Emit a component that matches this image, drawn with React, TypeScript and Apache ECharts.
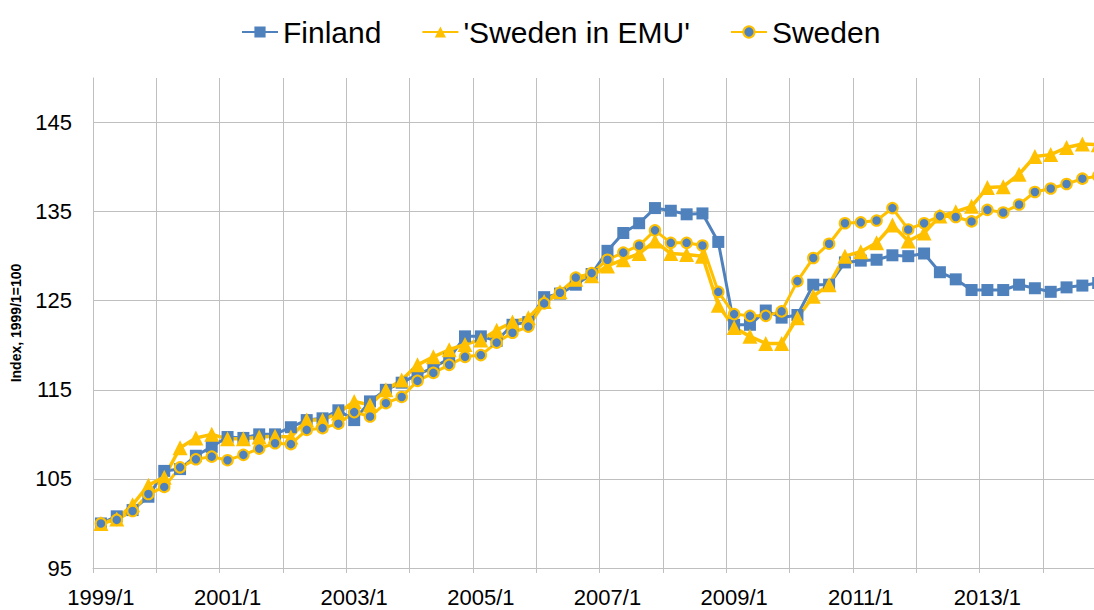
import React, { useEffect, useRef } from "react";
import * as echarts from "echarts";

const years = [1999, 2000, 2001, 2002, 2003, 2004, 2005, 2006, 2007, 2008, 2009, 2010, 2011, 2012, 2013, 2014];
const quarters = [1, 2, 3, 4];
const categories: string[] = [];
years.forEach((y) => quarters.forEach((q) => categories.push(`${y}/${q}`)));

const finland = [
  100.0, 100.8, 101.5, 103.0, 105.9, 106.1, 107.6, 108.6, 109.7, 109.6, 110.0, 110.0, 110.8, 111.6, 111.8, 112.7,
  111.6, 113.7, 115.0, 115.8, 116.7, 117.5, 118.5, 121.0, 121.0, 120.5, 122.3, 122.6, 125.4, 125.8, 126.8, 128.0,
  130.6, 132.6, 133.7, 135.4, 135.1, 134.7, 134.8, 131.6, 122.3, 122.3, 123.9, 123.1, 123.4, 126.8, 126.8, 129.3,
  129.5, 129.6, 130.1, 130.0, 130.3, 128.2, 127.4, 126.2, 126.2, 126.2, 126.8, 126.4, 126.0, 126.5, 126.7, 127.0,
];

const swedenEmu = [
  100.0, 100.5, 102.1, 104.3, 105.2, 108.5, 109.6, 110.0, 109.5, 109.5, 109.7, 109.8, 109.7, 111.6, 111.6, 112.4,
  113.7, 113.3, 115.0, 116.1, 117.8, 118.7, 119.5, 120.1, 120.6, 121.7, 122.6, 123.1, 124.9, 126.0, 127.4, 127.8,
  128.9, 129.6, 130.3, 131.7, 130.3, 130.2, 130.0, 124.5, 122.0, 121.0, 120.2, 120.2, 123.1, 125.5, 126.8, 130.0,
  130.5, 131.5, 133.5, 131.7, 132.6, 134.5, 135.0, 135.6, 137.7, 137.8, 139.2, 141.2, 141.4, 142.2, 142.6, 142.5,
];

const sweden = [
  100.0, 100.4, 101.4, 103.3, 104.1, 106.3, 107.2, 107.5, 107.1, 107.7, 108.4, 109.0, 108.9, 110.5, 110.7, 111.2,
  112.5, 112.0, 113.5, 114.2, 116.0, 116.9, 117.8, 118.7, 118.9, 120.3, 121.4, 122.1, 124.7, 125.9, 127.6, 128.1,
  129.6, 130.4, 131.2, 132.9, 131.5, 131.5, 131.2, 126.0, 123.5, 123.3, 123.3, 123.8, 127.2, 129.8, 131.4, 133.7,
  133.8, 134.0, 135.4, 133.0, 133.7, 134.5, 134.4, 133.9, 135.2, 134.9, 135.8, 137.2, 137.6, 138.1, 138.7, 139.0,
];

const seriesNames = ["Finland", "'Sweden in EMU'", "Sweden"];
const yTicks = { min: 95, max: 150, interval: 10 };

const BLUE = "#4F81BD";
const YELLOW = "#FFC000";
const GRID = "#BFBFBF";
const FONT = "Liberation Sans, Arial, sans-serif";

export default function App() {
  const ref = useRef<HTMLDivElement>(null);
  useEffect(() => {
    if (!ref.current) return;
    const chart = echarts.init(ref.current, undefined, { renderer: "svg" });
    chart.setOption({
      animation: false,
      backgroundColor: "#fff",
      legend: {
        top: 12,
        left: 236,
        itemWidth: 36,
        itemHeight: 14,
        itemGap: 40,
        textStyle: { fontSize: 30, color: "#000", fontFamily: FONT },
        data: seriesNames,
      },
      grid: { left: 93, top: 78, width: 64 * 15.83, height: 490, containLabel: false },
      xAxis: {
        type: "category",
        data: categories,
        boundaryGap: true,
        axisLine: { show: true, lineStyle: { color: GRID, width: 1 } },
        axisTick: { show: true, interval: 3, length: 5, lineStyle: { color: GRID } },
        splitLine: { show: true, interval: 3, lineStyle: { color: GRID, width: 1 } },
        axisLabel: { interval: 7, margin: 18, fontSize: 22, color: "#000", fontFamily: FONT },
      },
      yAxis: {
        type: "value",
        min: yTicks.min,
        max: yTicks.max,
        interval: yTicks.interval,
        name: "Index, 1999/1=100",
        nameLocation: "middle",
        nameGap: 70,
        nameRotate: 90,
        nameTextStyle: { fontSize: 14, fontWeight: "bold", color: "#000", fontFamily: FONT },
        axisLine: { show: true, lineStyle: { color: GRID, width: 1 } },
        axisTick: { show: false },
        splitLine: { show: true, showMaxLine: false, lineStyle: { color: GRID, width: 1 } },
        axisLabel: { showMaxLabel: false, margin: 21, fontSize: 22, color: "#000", fontFamily: FONT },
      },
      series: [
        {
          name: seriesNames[0],
          type: "line",
          data: finland,
          symbol: "rect",
          symbolSize: 12,
          showAllSymbol: true,
          lineStyle: { color: BLUE, width: 3 },
          itemStyle: { color: BLUE },
        },
        {
          name: seriesNames[1],
          type: "line",
          data: swedenEmu,
          symbol: "triangle",
          symbolSize: 15,
          showAllSymbol: true,
          lineStyle: { color: YELLOW, width: 3.5 },
          itemStyle: { color: YELLOW },
        },
        {
          name: seriesNames[2],
          type: "line",
          data: sweden,
          symbol: "circle",
          symbolSize: 10.5,
          showAllSymbol: true,
          lineStyle: { color: YELLOW, width: 3 },
          itemStyle: { color: BLUE, borderColor: YELLOW, borderWidth: 2 },
        },
      ],
    });
    return () => chart.dispose();
  }, []);
  return (
    <div style={{ position: "fixed", left: 0, top: 0, width: 1094, height: 610, overflow: "hidden", background: "#fff" }}>
      <div ref={ref} style={{ width: 1120, height: 610 }} />
    </div>
  );
}
